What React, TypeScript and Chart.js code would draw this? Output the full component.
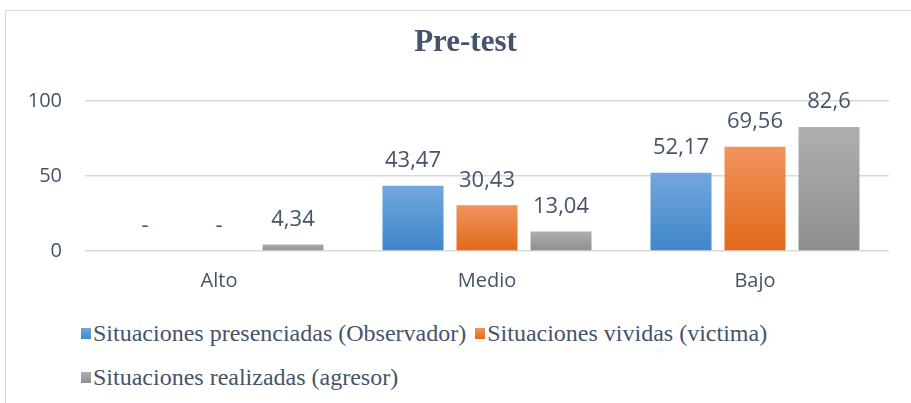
import React, { useEffect, useRef } from "react";
import { Chart, registerables } from "chart.js";

Chart.register(...registerables);

const categories = ["Alto", "Medio", "Bajo"];
const observador = [0, 43.47, 52.17];
const victima = [0, 30.43, 69.56];
const agresor = [4.34, 13.04, 82.6];
const seriesNames = [
  "Situaciones presenciadas (Observador)",
  "Situaciones vividas (victima)",
  "Situaciones realizadas (agresor)",
];
const yTicks = [0, 50, 100];
const title = "Pre-test";

const TEXT = "#44546A";
const gradients = [
  ["#72A7DD", "#3F86CA"],
  ["#F1935D", "#E2691A"],
  ["#AFAFAF", "#8E8E8E"],
];

const fmt = (v: number) => (v === 0 ? "-" : String(v).replace(".", ","));

function barFill(idx: number) {
  return (ctx: any) => {
    const chart = ctx.chart;
    const [c1, c2] = gradients[idx];
    if (!chart.chartArea || ctx.type !== "data") return c1;
    const y = chart.scales.y;
    const top = y.getPixelForValue(ctx.raw);
    const bottom = y.getPixelForValue(0);
    if (!(bottom - top > 0.5)) return c2;
    const g = chart.ctx.createLinearGradient(0, top, 0, bottom);
    g.addColorStop(0, c1);
    g.addColorStop(1, c2);
    return g;
  };
}

const labelPlugin = {
  id: "valueLabels",
  afterDatasetsDraw(chart: any) {
    const ctx = chart.ctx;
    const y = chart.scales.y;
    ctx.save();
    ctx.font = '22px "Open Sans"';
    ctx.fillStyle = TEXT;
    ctx.textAlign = "center";
    ctx.textBaseline = "middle";
    chart.data.datasets.forEach((ds: any, i: number) => {
      const meta = chart.getDatasetMeta(i);
      meta.data.forEach((el: any, j: number) => {
        const v = ds.data[j];
        const top = y.getPixelForValue(v);
        ctx.fillText(fmt(v), el.x, top - 25);
      });
    });
    ctx.restore();
  },
};

const titlePlugin = {
  id: "centerTitle",
  afterDraw(chart: any) {
    const ctx = chart.ctx;
    ctx.save();
    ctx.font = 'bold 31px "Liberation Serif"';
    ctx.fillStyle = TEXT;
    ctx.textAlign = "center";
    ctx.textBaseline = "alphabetic";
    ctx.fillText(title, chart.width / 2, 40);
    ctx.restore();
  },
};

export default function App() {
  const ref = useRef<HTMLCanvasElement>(null);
  useEffect(() => {
    if (!ref.current) return;
    const chart = new Chart(ref.current, {
      type: "bar",
      data: {
        labels: categories,
        datasets: [observador, victima, agresor].map((d, i) => ({
          label: seriesNames[i],
          data: d,
          backgroundColor: barFill(i),
          borderWidth: 0,
          categoryPercentage: 0.8284,
          barPercentage: 0.8243,
        })),
      },
      options: {
        animation: false,
        responsive: false,
        devicePixelRatio: 1,
        layout: { padding: { left: 0, right: 36, top: 90, bottom: 8 } },
        plugins: {
          legend: { display: false },
          tooltip: { enabled: false },
          title: { display: false },
        },
        scales: {
          x: {
            grid: { display: false },
            border: { display: false },
            ticks: {
              color: TEXT,
              font: { family: '"Open Sans"', size: 20 },
              padding: 10,
            },
          },
          y: {
            min: 0,
            max: 100,
            afterBuildTicks: (s: any) => {
              s.ticks = yTicks.map((v) => ({ value: v }));
            },
            afterFit: (s: any) => {
              s.width = 79;
            },
            grid: { color: "#D9D9D9", lineWidth: 1.5, drawTicks: false },
            border: { display: false },
            ticks: {
              color: TEXT,
              font: { family: '"Open Sans"', size: 20 },
              padding: 23,
            },
          },
        },
      },
      plugins: [labelPlugin, titlePlugin],
    });
    return () => chart.destroy();
  }, []);

  return (
    <div
      style={{
        position: "fixed",
        left: 0,
        top: 0,
        width: 911,
        height: 403,
        overflow: "hidden",
        background: "#fff",
      }}
    >
      <div
        style={{
          position: "absolute",
          left: 5,
          top: 10,
          width: 930,
          height: 420,
          border: "1px solid #D9D9D9",
          boxSizing: "border-box",
        }}
      >
        <canvas
          ref={ref}
          width={919}
          height={300}
          style={{ position: "absolute", left: 0, top: 0, width: 919, height: 300 }}
        />
        <div
          style={{
            position: "absolute",
            left: 75,
            top: 300,
            width: 720,
            display: "flex",
            flexWrap: "wrap",
            fontFamily: '"Liberation Serif"',
            fontSize: 24,
            lineHeight: "44px",
            color: TEXT,
          }}
        >
          {seriesNames.map((n, i) => (
            <div
              key={n}
              style={{ display: "flex", alignItems: "center", marginRight: 9, whiteSpace: "nowrap" }}
            >
              <span
                style={{
                  display: "inline-block",
                  width: 10,
                  height: 11,
                  marginRight: 2,
                  background: `linear-gradient(${gradients[i][0]}, ${gradients[i][1]})`,
                }}
              />
              <span>{n}</span>
            </div>
          ))}
        </div>
      </div>
    </div>
  );
}
